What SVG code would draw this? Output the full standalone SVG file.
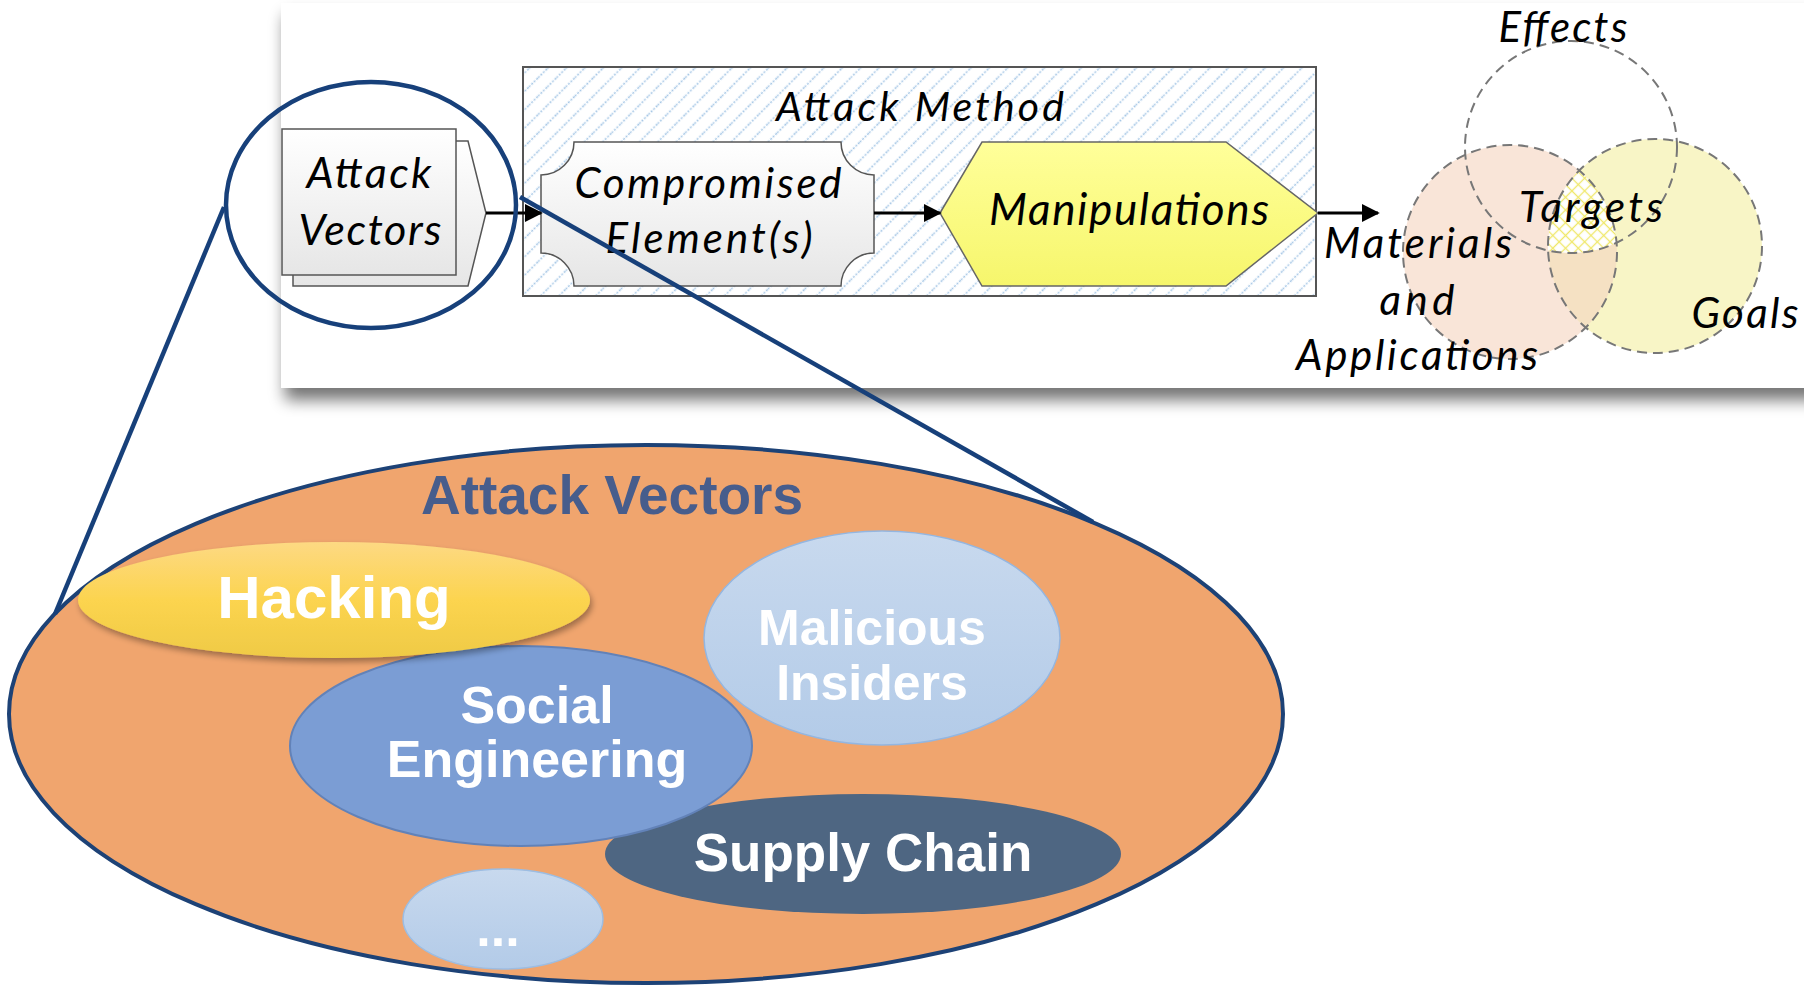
<svg xmlns="http://www.w3.org/2000/svg" width="1804" height="985" viewBox="0 0 1804 985">
<defs>
  <style>
    .it{font-family:Lato,"Open Sans","Liberation Sans",sans-serif;font-style:italic;fill:#000;text-anchor:middle}
    .bd{font-family:"Liberation Sans",Arial,sans-serif;font-weight:bold;fill:#fff;text-anchor:middle}
    .dash{fill:none;stroke:#777;stroke-width:2;stroke-dasharray:10 6}
    .conn{stroke:#000;stroke-width:3;fill:none;marker-end:url(#ah)}
    .zoom{stroke:#17407a;stroke-width:4.5;fill:none}
  </style>
  <filter id="pshadow" x="-5%" y="-10%" width="115%" height="130%">
    <feGaussianBlur in="SourceAlpha" stdDeviation="8"/>
    <feOffset dx="4" dy="12" result="b"/>
    <feComponentTransfer><feFuncA type="linear" slope="0.55"/></feComponentTransfer>
    <feMerge><feMergeNode/><feMergeNode in="SourceGraphic"/></feMerge>
  </filter>
  <filter id="hshadow" x="-10%" y="-20%" width="120%" height="150%">
    <feGaussianBlur in="SourceAlpha" stdDeviation="3"/>
    <feOffset dx="2" dy="4"/>
    <feComponentTransfer><feFuncA type="linear" slope="0.35"/></feComponentTransfer>
    <feMerge><feMergeNode/><feMergeNode in="SourceGraphic"/></feMerge>
  </filter>
  <linearGradient id="gray" x1="0" y1="0" x2="0" y2="1">
    <stop offset="0" stop-color="#ffffff"/><stop offset="1" stop-color="#e6e6e6"/>
  </linearGradient>
  <linearGradient id="yel" x1="0" y1="0" x2="0" y2="1">
    <stop offset="0" stop-color="#ffff9a"/><stop offset="1" stop-color="#f6f66c"/>
  </linearGradient>
  <linearGradient id="hack" x1="0" y1="0" x2="0" y2="1">
    <stop offset="0" stop-color="#fdd983"/><stop offset="0.5" stop-color="#fcd44f"/><stop offset="1" stop-color="#efca45"/>
  </linearGradient>
  <linearGradient id="lb" x1="0" y1="0" x2="0" y2="1">
    <stop offset="0" stop-color="#c8d9ee"/><stop offset="1" stop-color="#b3cbe8"/>
  </linearGradient>
  <pattern id="hatch" patternUnits="userSpaceOnUse" width="13" height="13" patternTransform="rotate(45)">
    <line x1="6.5" y1="0" x2="6.5" y2="13" stroke="#a8c8e6" stroke-width="1.6" stroke-dasharray="2 1.5"/>
  </pattern>
  <pattern id="xhatch" patternUnits="userSpaceOnUse" width="9" height="9" patternTransform="rotate(45)">
    <rect width="9" height="9" fill="#fff"/>
    <line x1="4.5" y1="0" x2="4.5" y2="9" stroke="#f0e86a" stroke-width="1.3"/>
    <line x1="0" y1="4.5" x2="9" y2="4.5" stroke="#f0e86a" stroke-width="1.3"/>
  </pattern>
  <clipPath id="cMat"><circle cx="1510" cy="252" r="107"/></clipPath>
  <clipPath id="cGoalMat"><circle cx="1655" cy="246" r="107" clip-path="url(#cMat)"/></clipPath>
  <marker id="ah" viewBox="0 0 10 10" refX="9" refY="5" markerWidth="6" markerHeight="6" markerUnits="strokeWidth" orient="auto">
    <path d="M0,0 L10,5 L0,10 z" fill="#000"/>
  </marker>
</defs>

<rect width="1804" height="985" fill="#fff"/>

<g id="panel">
  <rect x="281" y="3" width="1540" height="385" fill="#fff" filter="url(#pshadow)"/>
</g>

<g id="attack-vectors-box">
  <path d="M293,141 H468 L486,213 L468,286 H293 Z" fill="url(#gray)" stroke="#555" stroke-width="1.5"/>
  <rect x="282" y="129" width="174" height="146" fill="url(#gray)" stroke="#555" stroke-width="1.5"/>
  <text class="it" font-size="43" x="369" y="188" textLength="125" lengthAdjust="spacing">Attack</text>
  <text class="it" font-size="43" x="370" y="245" textLength="143" lengthAdjust="spacing">Vectors</text>
</g>

<g id="attack-method">
  <rect x="523" y="67" width="793" height="229" fill="#fff" stroke="#555" stroke-width="2"/>
  <rect x="524" y="68" width="791" height="227" fill="url(#hatch)"/>
  <text class="it" font-size="41" x="920" y="121" textLength="288" lengthAdjust="spacing">Attack Method</text>
</g>

<g id="compromised">
  <path d="M574,142 H841 A33,33 0 0 0 874,175 V253 A33,33 0 0 0 841,286 H574 A33,33 0 0 0 541,253 V175 A33,33 0 0 0 574,142 Z" fill="url(#gray)" stroke="#555" stroke-width="1.5"/>
  <text class="it" font-size="42" x="708" y="198" textLength="267" lengthAdjust="spacing">Compromised</text>
  <text class="it" font-size="42" x="709" y="253" textLength="207" lengthAdjust="spacing">Element(s)</text>
</g>

<g id="manipulations">
  <path d="M940,213 L982,142 H1226 L1318,213 L1226,286 H982 Z" fill="url(#yel)" stroke="#666" stroke-width="1.5"/>
  <text class="it" font-size="44" x="1129" y="225" textLength="280" lengthAdjust="spacing">Manipulations</text>
</g>

<g id="venn">
  <circle cx="1510" cy="252" r="107" fill="#f9e5d8"/>
  <circle cx="1655" cy="246" r="107" fill="#f8f5c6"/>
  <circle cx="1655" cy="246" r="107" fill="#f5e1c3" clip-path="url(#cMat)"/>
  <circle cx="1571" cy="147" r="106" fill="url(#xhatch)" clip-path="url(#cGoalMat)"/>
  <circle class="dash" cx="1510" cy="252" r="107"/>
  <circle class="dash" cx="1655" cy="246" r="107"/>
  <circle class="dash" cx="1571" cy="147" r="106"/>
  <text class="it" font-size="42" x="1563" y="42" textLength="129" lengthAdjust="spacing">Effects</text>
  <text class="it" font-size="42" x="1591" y="222" textLength="144" lengthAdjust="spacing">Targets</text>
  <text class="it" font-size="42" x="1418" y="258" textLength="188" lengthAdjust="spacing">Materials</text>
  <text class="it" font-size="42" x="1417" y="315" textLength="75" lengthAdjust="spacing">and</text>
  <text class="it" font-size="42" x="1417" y="370" textLength="242" lengthAdjust="spacing">Applications</text>
  <text class="it" font-size="42" x="1745" y="328" textLength="107" lengthAdjust="spacing">Goals</text>
</g>

<g id="av-detail">
  <ellipse cx="646" cy="714" rx="637" ry="269" fill="#f0a56e" stroke="#1d4276" stroke-width="4"/>
  <text class="bd" font-size="55" x="612" y="514" style="fill:#475d8c">Attack Vectors</text>
</g>

<g id="malicious">
  <ellipse cx="882" cy="638" rx="178" ry="107" fill="url(#lb)" stroke="#94b6e0" stroke-width="1.5"/>
  <text class="bd" font-size="50" x="872" y="645">Malicious</text>
  <text class="bd" font-size="50" x="872" y="700">Insiders</text>
</g>

<g id="supply">
  <ellipse cx="863" cy="854" rx="258" ry="60" fill="#4e6682"/>
  <text class="bd" font-size="53" x="863" y="871">Supply Chain</text>
</g>

<g id="social">
  <ellipse cx="521" cy="746" rx="231" ry="100" fill="#7b9dd4" stroke="#6282b8" stroke-width="2"/>
  <text class="bd" font-size="52" x="537" y="723">Social</text>
  <text class="bd" font-size="52" x="537" y="777">Engineering</text>
</g>

<g id="hacking">
  <ellipse cx="334" cy="600" rx="256" ry="58" fill="url(#hack)" filter="url(#hshadow)"/>
  <text class="bd" font-size="60" x="334" y="618">Hacking</text>
</g>

<g id="more">
  <ellipse cx="503" cy="919" rx="100" ry="50" fill="url(#lb)" stroke="#9cbde3" stroke-width="1.5"/>
  <text class="bd" font-size="52" x="498" y="946">...</text>
</g>

<g id="connectors">
  <line class="conn" x1="486" y1="213" x2="541" y2="213"/>
  <line class="conn" x1="874" y1="213" x2="940" y2="213"/>
  <line class="conn" x1="1318" y1="213" x2="1378" y2="213"/>
  <ellipse class="zoom" cx="371" cy="205" rx="145" ry="123" stroke-width="5.5"/>
  <line class="zoom" x1="224" y1="207" x2="55" y2="614"/>
  <line class="zoom" x1="520" y1="197" x2="1093" y2="522"/>
</g>
</svg>
